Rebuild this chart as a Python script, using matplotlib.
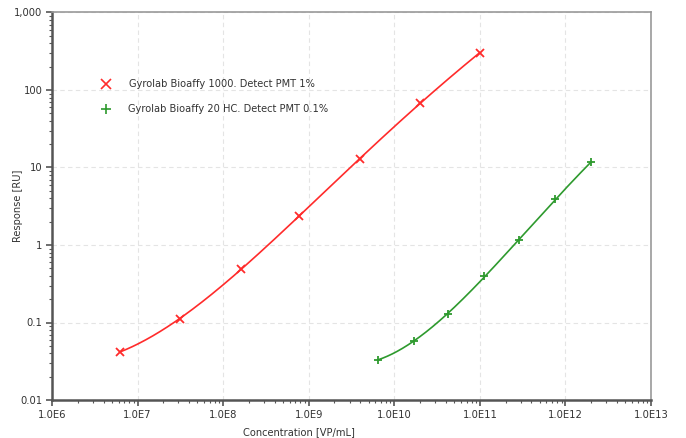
import numpy as np
import matplotlib
matplotlib.use("Agg")
import matplotlib.pyplot as plt
from matplotlib.ticker import FixedLocator, FixedFormatter, LogLocator, NullFormatter

# Data
red_label = "Gyrolab Bioaffy 1000. Detect PMT 1%"
red_x = [6.3e6, 3.1e7, 1.6e8, 7.7e8, 3.96e9, 2.0e10, 1.0e11]
red_y = [0.042, 0.111, 0.485, 2.37, 12.8, 68.0, 303.0]

green_label = "Gyrolab Bioaffy 20 HC. Detect PMT 0.1%"
green_x = [6.5e9, 1.68e10, 4.3e10, 1.11e11, 2.88e11, 7.6e11, 2.0e12]
green_y = [0.033, 0.058, 0.13, 0.394, 1.15, 3.89, 11.8]

x_ticks = [1e6, 1e7, 1e8, 1e9, 1e10, 1e11, 1e12, 1e13]
x_ticklabels = ["1.0E6", "1.0E7", "1.0E8", "1.0E9", "1.0E10", "1.0E11", "1.0E12", "1.0E13"]
y_ticks = [0.01, 0.1, 1, 10, 100, 1000]
y_ticklabels = ["0.01", "0.1", "1", "10", "100", "1,000"]

RED = "#ff2b2b"
GREEN = "#2e9a2e"

plt.rcParams['font.family'] = ['Verdana', 'DejaVu Sans']

fig = plt.figure(figsize=(6.86, 4.38), dpi=100)
ax = fig.add_axes([52/686, 38/438, (651-52)/686, (400-12.5)/438])
ax.set_xscale('log')
ax.set_yscale('log')
ax.set_xlim(1e6, 1e13)
ax.set_ylim(0.01, 1000)


def smooth(xs, ys, deg=4):
    # smooth fitted curve in log-log space (standard-curve style)
    lx = np.log10(xs)
    ly = np.log10(ys)
    c = np.polyfit(lx, ly, deg)
    t = np.linspace(lx[0], lx[-1], 300)
    return 10**t, 10**np.polyval(c, t)

sx, sy = smooth(red_x, red_y)
ax.plot(sx, sy, color=RED, lw=1.2, zorder=3)
ax.plot(red_x, red_y, linestyle='none', marker='x', color=RED, ms=6, mew=1.3, zorder=4)

gx, gy = smooth(green_x, green_y)
ax.plot(gx, gy, color=GREEN, lw=1.2, zorder=3)
ax.plot(green_x, green_y, linestyle='none', marker='+', color=GREEN, ms=6, mew=1.3, zorder=4)

ax.xaxis.set_major_locator(FixedLocator(x_ticks))
ax.xaxis.set_major_formatter(FixedFormatter(x_ticklabels))
ax.yaxis.set_major_locator(FixedLocator(y_ticks))
ax.yaxis.set_major_formatter(FixedFormatter(y_ticklabels))
ax.xaxis.set_minor_locator(LogLocator(base=10, subs=np.arange(2, 10), numticks=20))
ax.yaxis.set_minor_locator(LogLocator(base=10, subs=np.arange(2, 10), numticks=20))
ax.xaxis.set_minor_formatter(NullFormatter())
ax.yaxis.set_minor_formatter(NullFormatter())

ax.tick_params(which='major', direction='out', length=4, width=1.2, color='#555555',
               labelsize=7.2, labelcolor='#333333', pad=3)
ax.tick_params(which='minor', direction='out', length=2, width=0.8, color='#555555')

ax.grid(True, which='major', linestyle=(0, (4, 3)), color='#e4e4e4', lw=0.8)
ax.set_axisbelow(True)

for s in ['left', 'bottom']:
    ax.spines[s].set_color('#555555')
    ax.spines[s].set_linewidth(1.8)
for s in ['top', 'right']:
    ax.spines[s].set_color('#999999')
    ax.spines[s].set_linewidth(1.2)

fig.text(18/686, 1 - 206/438, "Response [RU]", rotation=90, ha='center', va='center',
         fontsize=7.1, color='#333333')
fig.text(299/686, 1 - 432/438, "Concentration [VP/mL]", ha='center', va='center',
         fontsize=7.1, color='#333333')

# Legend (manual, no frame)
ax.plot([106/686], [1 - 84/438], transform=fig.transFigure, marker='x', color=RED,
        ms=7, mew=1.2, linestyle='none', clip_on=False)
ax.plot([106/686], [1 - 109/438], transform=fig.transFigure, marker='+', color=GREEN,
        ms=7, mew=1.2, linestyle='none', clip_on=False)
fig.text(129/686, 1 - 84/438, red_label, ha='left', va='center', fontsize=7.1, color='#333333')
fig.text(128/686, 1 - 109/438, green_label, ha='left', va='center', fontsize=7.1, color='#333333')

fig.savefig("out.png", dpi=100)
